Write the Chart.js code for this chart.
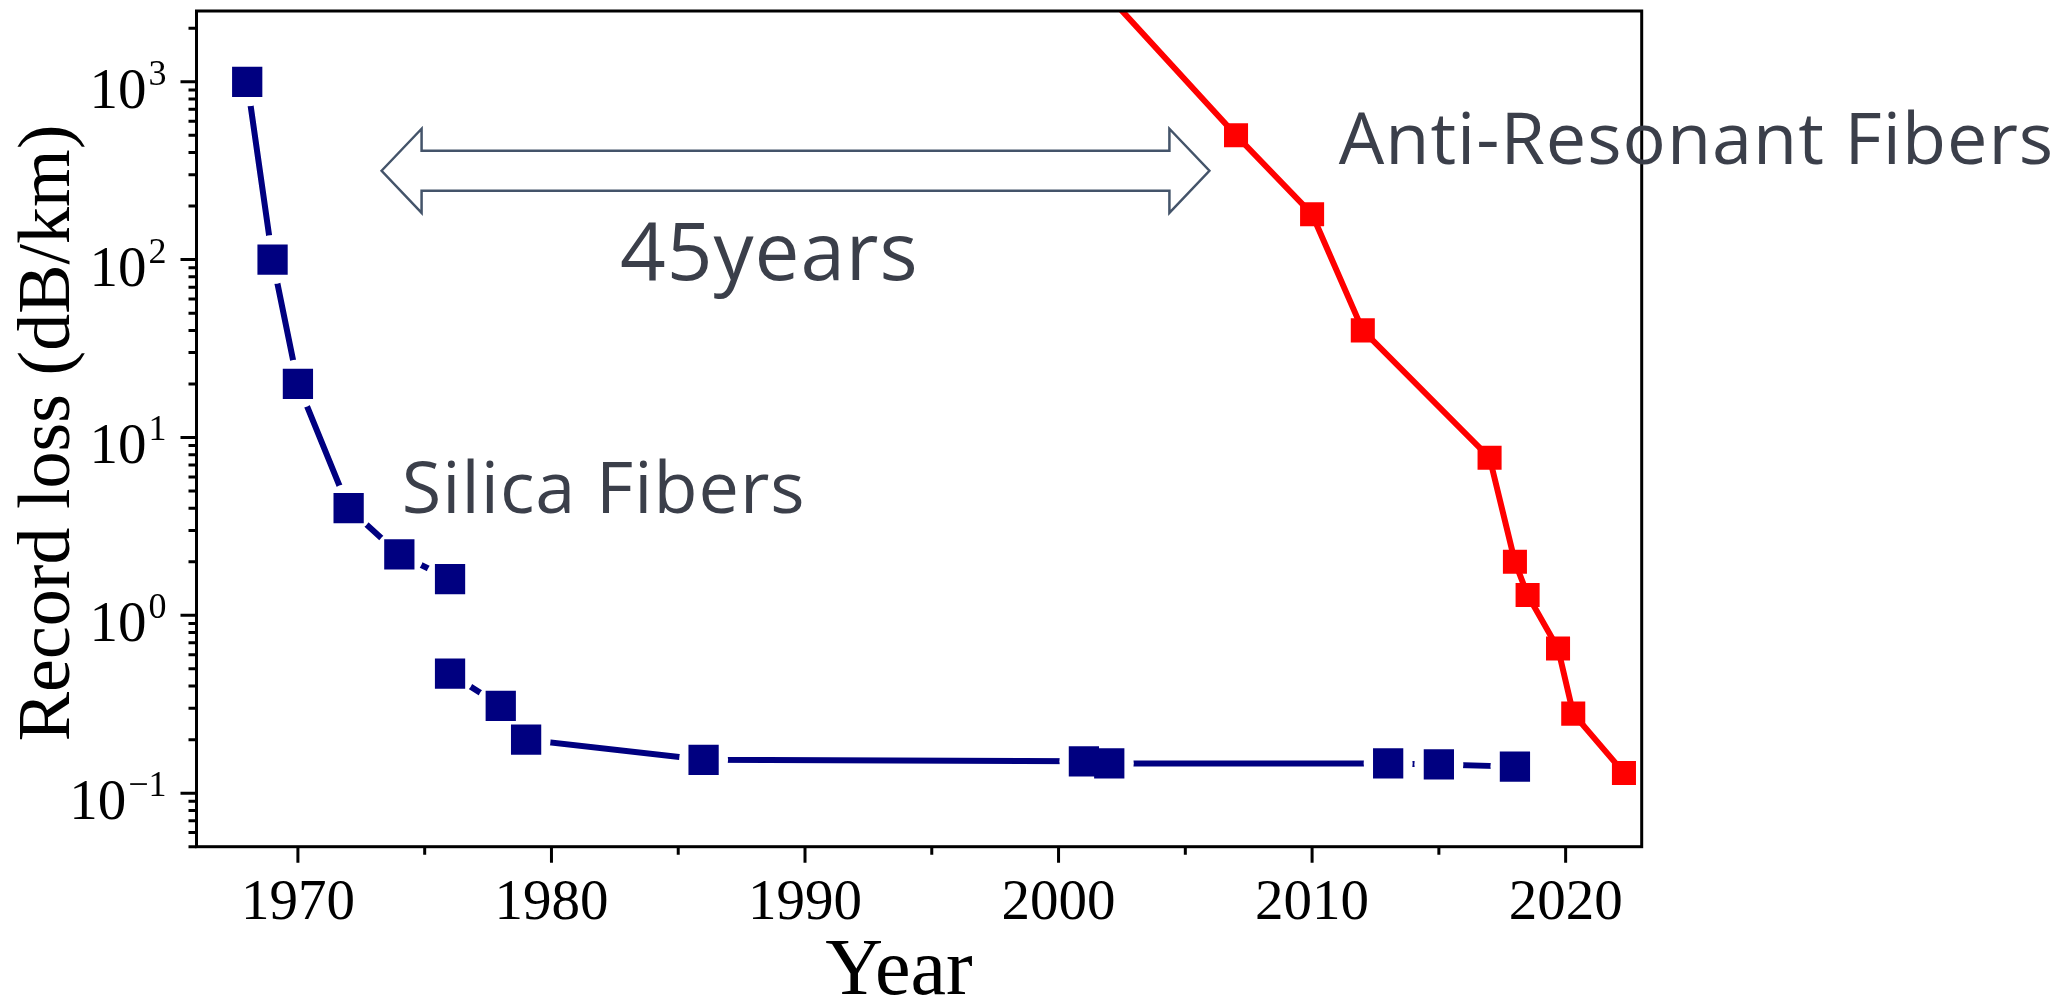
<!DOCTYPE html>
<html>
<head>
<meta charset="utf-8">
<script src="https://cdn.jsdelivr.net/npm/chart.js@4.4.0/dist/chart.umd.min.js"></script>
<style>
  html, body { margin: 0; padding: 0; background: #fff; }
  #wrap { width: 2060px; height: 1002px; position: relative; }
</style>
</head>
<body>
<div id="wrap"><canvas id="lossChart"></canvas></div>
<script>
  // record loss of silica fibres (dB/km); the null splits the two 1976 results
  var silicaYears = [1968, 1969, 1970, 1972, 1974, 1976, 1976, 1976, 1978, 1979, 1986, 2001, 2002, 2013, 2015, 2018];
  var silicaLoss  = [1000, 100, 20, 4, 2.2, 1.6, null, 0.47, 0.31, 0.2, 0.154, 0.151, 0.147, 0.147, 0.145, 0.141];

  // anti-resonant hollow core fibres (first point sits above the plot)
  var arfYears = [2002, 2007, 2010, 2012, 2017, 2018, 2018.5, 2019.7, 2020.3, 2022.3];
  var arfLoss  = [3000, 500, 180, 40, 7.7, 2.0, 1.3, 0.65, 0.28, 0.13];

  var xMajor = [1970, 1980, 1990, 2000, 2010, 2020];
  var xMinor = [1975, 1985, 1995, 2005, 2015];
  var yMajor = [0.1, 1, 10, 100, 1000];
  var yExp   = ['\u22121', '0', '1', '2', '3'];

  var NAVY = '#000080';
  var RED = '#ff0000';
  var NOTE = '#3b3f4a';
  var SERIF = '"Liberation Serif", "Times New Roman", serif';
  var SANS = '"Open Sans", "Noto Sans", sans-serif';

  function pts(xs, ys) {
    return xs.map(function (x, i) { return { x: x, y: ys[i] }; });
  }

  // minor log ticks 2..9 in each decade
  var yMinor = [];
  [0.01, 0.1, 1, 10, 100, 1000].forEach(function (d) {
    for (var m = 2; m <= 9; m++) yMinor.push(d * m);
  });

  var axesDecor = {
    id: 'axesDecor',
    afterDraw: function (chart) {
      var ctx = chart.ctx, a = chart.chartArea;
      var xs = chart.scales.x, ys = chart.scales.y;
      ctx.save();

      // frame + ticks
      ctx.strokeStyle = '#000';
      ctx.lineWidth = 3;
      ctx.strokeRect(a.left, a.top, a.right - a.left, a.bottom - a.top);
      ctx.beginPath();
      xMajor.forEach(function (v) {
        var p = xs.getPixelForValue(v);
        ctx.moveTo(p, a.bottom); ctx.lineTo(p, a.bottom + 16);
      });
      xMinor.forEach(function (v) {
        var p = xs.getPixelForValue(v);
        ctx.moveTo(p, a.bottom); ctx.lineTo(p, a.bottom + 8);
      });
      yMajor.forEach(function (v) {
        var p = ys.getPixelForValue(v);
        ctx.moveTo(a.left, p); ctx.lineTo(a.left - 16, p);
      });
      yMinor.forEach(function (v) {
        if (v < ys.min || v > ys.max) return;
        var p = ys.getPixelForValue(v);
        ctx.moveTo(a.left, p); ctx.lineTo(a.left - 8, p);
      });
      ctx.stroke();

      // y tick labels 10^n
      ctx.fillStyle = '#000';
      ctx.textAlign = 'right';
      ctx.textBaseline = 'alphabetic';
      var rightEdge = a.left - 30;
      yMajor.forEach(function (v, i) {
        var p = ys.getPixelForValue(v);
        ctx.font = '36px ' + SERIF;
        var w = ctx.measureText(yExp[i]).width;
        ctx.fillText(yExp[i], rightEdge, p + 3);
        ctx.font = '57px ' + SERIF;
        ctx.fillText('10', rightEdge - w - 2, p + 26);
      });

      // axis titles
      ctx.textAlign = 'center';
      ctx.font = '80px ' + SERIF;
      ctx.fillText('Year', 899, 994);
      ctx.save();
      ctx.translate(69, 433);
      ctx.rotate(-Math.PI / 2);
      ctx.font = '74px ' + SERIF;
      ctx.fillText('Record loss (dB/km)', 0, 0);
      ctx.restore();

      // double arrow "45years"
      var L = xs.getPixelForValue(1973.3), R = xs.getPixelForValue(2005.95);
      var cy = ys.getPixelForValue(316);
      var hl = 40, hh = 42, sh = 20;
      ctx.beginPath();
      ctx.moveTo(L, cy);
      ctx.lineTo(L + hl, cy - hh); ctx.lineTo(L + hl, cy - sh);
      ctx.lineTo(R - hl, cy - sh); ctx.lineTo(R - hl, cy - hh);
      ctx.lineTo(R, cy);
      ctx.lineTo(R - hl, cy + hh); ctx.lineTo(R - hl, cy + sh);
      ctx.lineTo(L + hl, cy + sh); ctx.lineTo(L + hl, cy + hh);
      ctx.closePath();
      ctx.strokeStyle = '#44546a';
      ctx.lineWidth = 2.5;
      ctx.stroke();

      // text notes
      ctx.fillStyle = NOTE;
      ctx.textAlign = 'left';
      ctx.letterSpacing = '1px';
      ctx.font = '72px ' + SANS;
      ctx.fillText('Silica Fibers', xs.getPixelForValue(1974.1), ys.getPixelForValue(3.74));
      ctx.fillText('Anti-Resonant Fibers', xs.getPixelForValue(2011.05), ys.getPixelForValue(346));
      ctx.font = '80px ' + SANS;
      ctx.fillText('45years', xs.getPixelForValue(1982.7), ys.getPixelForValue(76.7));
      ctx.letterSpacing = '0px';

      ctx.restore();
    }
  };

  var ctx = document.getElementById('lossChart').getContext('2d');
  var lossChart = new Chart(ctx, {
    type: 'line',
    data: {
      datasets: [
        {
          label: 'Anti-Resonant Fibers',
          data: pts(arfYears, arfLoss),
          borderColor: RED,
          backgroundColor: RED,
          borderWidth: 6,
          pointStyle: 'rect',
          pointRadius: 17,
          pointBorderWidth: 0,
          order: 0
        },
        {
          label: 'Silica Fibers',
          data: pts(silicaYears, silicaLoss),
          showLine: false,
          backgroundColor: NAVY,
          pointStyle: 'rect',
          pointRadius: 21.4,
          pointBorderWidth: 0,
          order: 1
        },
        {
          label: 'silica halo',
          data: pts(silicaYears, silicaLoss),
          showLine: false,
          backgroundColor: '#fff',
          pointStyle: 'circle',
          pointRadius: 24.5,
          pointBorderWidth: 0,
          order: 2
        },
        {
          label: 'silica line',
          data: pts(silicaYears, silicaLoss),
          borderColor: NAVY,
          borderWidth: 6,
          pointRadius: 0,
          spanGaps: false,
          order: 3
        }
      ]
    },
    options: {
      responsive: true,
      maintainAspectRatio: false,
      animation: false,
      layout: { autoPadding: false, padding: { top: 11, right: 418.3, left: 0, bottom: 0 } },
      plugins: {
        legend: { display: false },
        tooltip: { enabled: false }
      },
      scales: {
        x: {
          type: 'linear',
          min: 1966,
          max: 2023,
          grid: { display: false, drawTicks: false },
          border: { display: false },
          afterBuildTicks: function (scale) {
            scale.ticks = xMajor.map(function (v) { return { value: v }; });
          },
          afterFit: function (scale) { scale.height = 155.3; },
          ticks: {
            color: '#000',
            padding: 23,
            maxRotation: 0,
            font: { family: SERIF, size: 57 },
            callback: function (v) { return String(v); }
          }
        },
        y: {
          type: 'logarithmic',
          min: 0.05,
          max: 2500,
          grid: { display: false, drawTicks: false },
          border: { display: false },
          afterFit: function (scale) { scale.width = 196.5; },
          ticks: { display: false }
        }
      }
    },
    plugins: [axesDecor]
  });
</script>
</body>
</html>
